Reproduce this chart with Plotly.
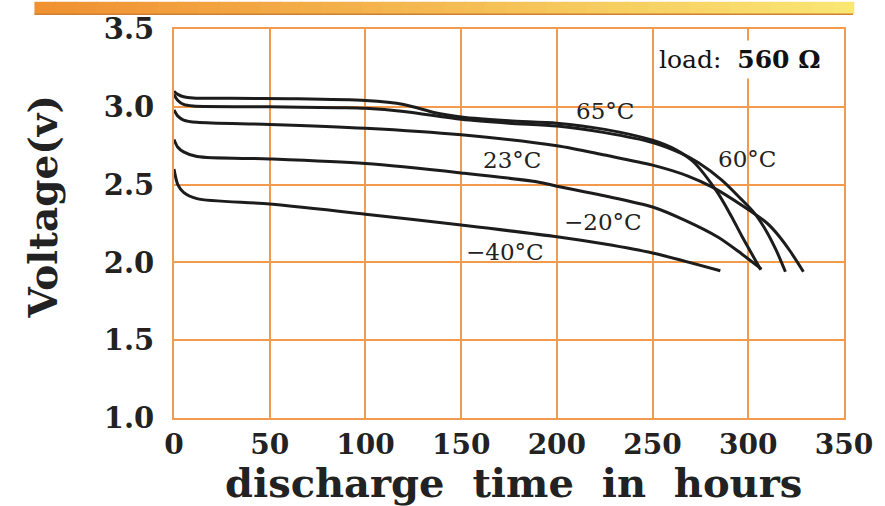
import plotly.graph_objects as go

# ---- data ----
t65 = [0, 2, 5, 10, 30, 60, 100, 120, 137, 150, 175, 200, 225, 250, 262, 271, 283.7, 291, 296.6, 306.5]
v65 = [3.10, 3.08, 3.065, 3.057, 3.055, 3.052, 3.04, 3.015, 2.96, 2.935, 2.91, 2.895, 2.855, 2.785, 2.725, 2.65, 2.453, 2.30, 2.17, 1.953]

t60 = [0, 2, 5, 10, 50, 86, 100, 120, 150, 175, 200, 225, 250, 265, 274, 286, 296, 303, 309, 314.5, 319.4]
v60 = [3.08, 3.04, 3.015, 3.005, 3.0, 2.994, 2.99, 2.97, 2.92, 2.895, 2.877, 2.834, 2.77, 2.70, 2.64, 2.53, 2.41, 2.32, 2.21, 2.08, 1.94]

t23 = [0, 2, 5, 12, 50, 100, 150, 200, 225, 250, 268.5, 281, 296.6, 310, 316, 322, 328.8]
v23 = [2.98, 2.94, 2.915, 2.90, 2.887, 2.862, 2.82, 2.75, 2.69, 2.625, 2.555, 2.485, 2.367, 2.25, 2.17, 2.07, 1.94]

t_m20 = [0, 2, 5, 12, 50, 100, 150, 190, 200, 224, 250, 267, 284.5, 296.6, 306.9]
v_m20 = [2.79, 2.74, 2.71, 2.68, 2.665, 2.635, 2.575, 2.517, 2.49, 2.43, 2.356, 2.27, 2.16, 2.054, 1.957]

t_m40 = [0, 2, 5, 12, 50, 100, 150, 200, 225, 250, 285.4]
v_m40 = [2.60, 2.50, 2.45, 2.41, 2.375, 2.31, 2.24, 2.165, 2.118, 2.06, 1.946]

label_text = ["65°C", "60°C", "23°C", "−20°C", "−40°C"]
label_t = [225, 299.5, 176.7, 224, 173]
label_v = [2.975, 2.665, 2.657, 2.262, 2.065]

x_ticks = [0, 50, 100, 150, 200, 250, 300, 350]
y_ticks = [1.0, 1.5, 2.0, 2.5, 3.0, 3.5]
y_ticklabels = ["1.0", "1.5", "2.0", "2.5", "3.0", "3.5"]

load_text = "load:  <b>560 Ω</b>"
load_t, load_v = 295.2, 3.303

# ---- style ----
GRID = "#f29a4e"
LINE = "#1c1c1c"
SERIF = "DejaVu Serif"

fig = go.Figure()
for t, v in [(t65, v65), (t60, v60), (t23, v23), (t_m20, v_m20), (t_m40, v_m40)]:
    fig.add_trace(go.Scatter(x=t, y=v, mode="lines",
                             line=dict(color=LINE, width=3, shape="spline", smoothing=0.8),
                             showlegend=False, hoverinfo="skip"))

annotations = []
for txt, t, v in zip(label_text, label_t, label_v):
    annotations.append(dict(x=t, y=v, xref="x", yref="y", text=txt, showarrow=False,
                            xanchor="center", yanchor="middle",
                            font=dict(family=SERIF, size=23, color="#222")))
annotations.append(dict(x=load_t, y=load_v, xref="x", yref="y", text=load_text, showarrow=False,
                        xanchor="center", yanchor="middle",
                        font=dict(family=SERIF, size=25, color="#111"), bgcolor="white",
                        borderpad=4))
annotations.append(dict(x=-0.195, y=0.542, xref="paper", yref="paper", text="<b>Voltage(v)</b>",
                        textangle=-90, showarrow=False, xanchor="center", yanchor="middle",
                        font=dict(family=SERIF, size=39, color="#222")))
annotations.append(dict(x=0.507, y=-0.167, xref="paper", yref="paper",
                        text="<b>discharge\u00a0\u00a0time\u00a0\u00a0in\u00a0\u00a0hours</b>",
                        showarrow=False, xanchor="center", yanchor="middle",
                        font=dict(family=SERIF, size=40, color="#222")))

# banner gradient at the top (orange -> yellow)
shapes = []
n = 40
x0p, x1p = -0.2083, 1.0133
c0 = (240, 145, 50)
c1 = (250, 230, 115)
for i in range(n):
    f = i / (n - 1)
    col = "rgb(%d,%d,%d)" % tuple(int(c0[k] + (c1[k] - c0[k]) * f) for k in range(3))
    xa = x0p + (x1p - x0p) * i / n
    xb = x0p + (x1p - x0p) * (i + 1) / n
    shapes.append(dict(type="rect", xref="paper", yref="paper", x0=xa, x1=xb + 0.002,
                       y0=1.038, y1=1.07, fillcolor=col, line=dict(width=0), layer="above"))
shapes.append(dict(type="line", xref="paper", yref="paper", x0=x0p, x1=x1p, y0=1.038, y1=1.038,
                   line=dict(color="#d08030", width=1.5)))

fig.update_layout(
    width=885, height=506, autosize=False,
    margin=dict(l=174, r=30, t=25, b=88),
    paper_bgcolor="white", plot_bgcolor="white",
    annotations=annotations, shapes=shapes,
    xaxis=dict(range=[0, 350], tickvals=x_ticks, ticktext=["<b>%d</b>" % v for v in x_ticks],
               showgrid=True, gridcolor=GRID, gridwidth=2,
               showline=True, linecolor=GRID, linewidth=2, mirror=True, zeroline=False,
               ticks="", ticklabelstandoff=0, ticklabeloverflow="allow",
               tickfont=dict(family=SERIF, size=28, color="#222"), fixedrange=True),
    yaxis=dict(range=[1.0, 3.5], tickvals=y_ticks, ticktext=["<b>%s</b>" % s for s in y_ticklabels],
               showgrid=True, gridcolor=GRID, gridwidth=2,
               showline=True, linecolor=GRID, linewidth=2, mirror=True, zeroline=False,
               ticks="", ticklabelstandoff=12,
               tickfont=dict(family=SERIF, size=29, color="#222"), fixedrange=True),
)

fig.write_html("out.html", config={"displayModeBar": False},
               post_script="document.body.style.margin='0px';document.body.style.overflow='hidden';")
